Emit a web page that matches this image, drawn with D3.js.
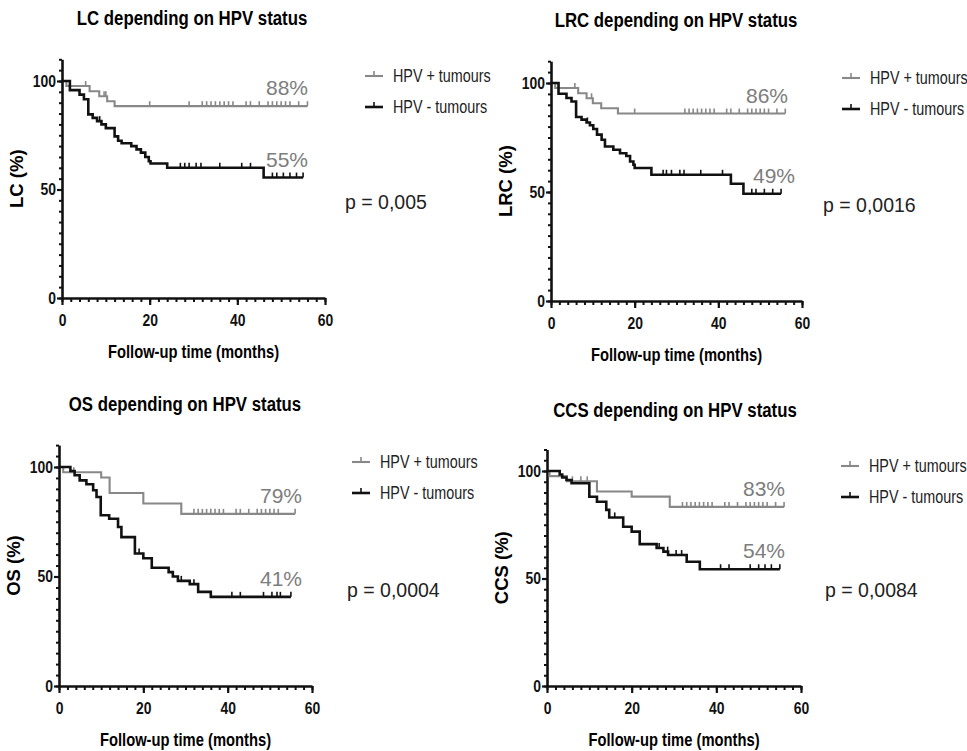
<!DOCTYPE html>
<html>
<head>
<meta charset="utf-8">
<script src="https://cdn.jsdelivr.net/npm/d3@7"></script>
<style>
  body { margin: 0; background: #fff; }
  svg { display: block; }
  svg text { font-family: 'Liberation Sans', Arial, sans-serif; }
  .axis path, .axis line { stroke: #111; }
  .axis text { font-weight: bold; font-size: 17px; fill: #111; }
</style>
</head>
<body>
<div id="container"></div>
<script>
"use strict";

// text of each panel
const titles = ["LC depending on HPV status", "LRC depending on HPV status",
                "OS depending on HPV status", "CCS depending on HPV status"];
const yLabels = ["LC (%)", "LRC (%)", "OS (%)", "CCS (%)"];
const pValues = ["p = 0,005", "p = 0,0016", "p = 0,0004", "p = 0,0084"];
const posFinal = ["88%", "86%", "79%", "83%"];
const negFinal = ["55%", "49%", "41%", "54%"];
const seriesNames = ["HPV + tumours", "HPV - tumours"];
const xMajor = [0, 20, 40, 60];
const yMajor = [0, 50, 100];

// Kaplan-Meier steps [month, % survival]
const lcPos = [[0,100],[1,97.7],[6.3,95.3],[8.5,93.0],[10.3,90.7],[12,88.4],[56,88.4]];
const lcPosCens = [5.4,9.6,10,20,29,32,33,34,35,36,37,38,39,42,43,45,47,48,49,50,51,52,54,56];
const lcNeg = [[0,100],[1.8,95.8],[4,93.7],[5,91.6],[6,84.6],[7,83],[8,81.5],[9,80],[10,78.3],
               [12,74.5],[12.8,72.5],[13.6,71.3],[15.8,70],[17,68.5],[18,67],[19,65],[19.8,63],
               [20.2,62],[24,60],[46,55.5],[55,55.5]];
const lcNegCens = [8.6,27,28,29,30.6,31.7,36,41,43,48,49,50.5,52,53.5,55];

const lrcPos = [[0,100],[1,97.7],[6.5,95.3],[8.5,93.0],[10,90.7],[12,88.4],[16,86.0],[56,86.0]];
const lrcPosCens = [5.7,9.7,20,32,33,34,35,36,37,38,39,42,43,45,47,48,49,50,51,52,54,56];
const lrcNeg = [[0,100],[1.8,95.1],[3.7,93.1],[4.9,91.5],[6,84.4],[7.3,83.2],[8.5,81.9],[9.3,80.6],
                [10.1,78.9],[11,76.3],[12.1,74],[12.9,70.9],[14.9,69.4],[16.5,67.8],[18,66.5],
                [18.9,64],[19.7,62.5],[20,61],[24,57.9],[43,53.8],[46,49.2],[55,49.2]];
const lrcNegCens = [8.7,26.8,27.6,28.8,30.8,31.8,35.8,41,48,49,51,53,55];

const osPos = [[0,100],[1,97.6],[10,95.2],[12,88.1],[20,83.3],[29,78.6],[56,78.6]];
const osPosCens = [3.5,32,33,34,35,36,37,38,39,42,43,45,47,48,49,50,51,52,56];
const osNeg = [[0,100],[2.7,98.2],[3.7,96.2],[4.9,93.9],[6.5,92.1],[8.1,89.4],[8.9,86.3],[9.9,78],
               [11.9,76.4],[14,72.6],[14.8,68],[18,60.5],[20,58.3],[22,54],[26,52],[27,50],
               [28.2,48],[31,46.5],[33,43],[36,40.7],[55,40.7]];
const osNegCens = [19,29,32,41,43,48.5,50.5,51.7,52.5,55];

const ccsPos = [[0,100],[0.6,97.6],[4.7,95.2],[11.8,90.5],[20,88.1],[29,83.3],[56,83.3]];
const ccsPosCens = [6,8,9.5,32,33,34,35,36,37,38,39,42,43,45,47,48,49,50,51,52,54,56];
const ccsNeg = [[0,100],[3,98.4],[3.6,97],[4.6,95.8],[5.8,94.3],[10,88],[11.8,85.7],[14,81.9],
                [14.7,78.4],[18,74.1],[20,71.8],[21.9,66],[25.9,64.2],[27.5,62.5],[28.6,60.9],
                [33,57.8],[36.1,54.3],[55,54.3]];
const ccsNegCens = [16,26.5,28.5,30.5,31.8,41,43,48,50,51.5,53,55];

const posSeries = [lcPos, lrcPos, osPos, ccsPos];
const posCens = [lcPosCens, lrcPosCens, osPosCens, ccsPosCens];
const negSeries = [lcNeg, lrcNeg, osNeg, ccsNeg];
const negCens = [lcNegCens, lrcNegCens, osNegCens, ccsNegCens];

// pixel frame of each panel
const layout = [
  { x0: 62,  x60: 325, y0: 298, y100: 81,  tx: 192, ty: 25,  px: 345, posX: 308, negX: 308 },
  { x0: 551, x60: 802, y0: 301, y100: 83,  tx: 676, ty: 27,  px: 823, posX: 788, negX: 795 },
  { x0: 59,  x60: 312, y0: 686, y100: 467, tx: 185, ty: 411, px: 347, posX: 302, negX: 302 },
  { x0: 547, x60: 801, y0: 686, y100: 471, tx: 675, ty: 417, px: 825, posX: 785, negX: 785 }
];

const grey = "#888", black = "#111";
// the graph-pad text is squeezed sideways
const squeeze = 0.82;

const svg = d3.select("#container").append("svg")
    .attr("width", 967)
    .attr("height", 751);

// value of a step curve at time t
const stepAt = function(steps, t) {
    let v = steps[0][1];
    steps.forEach(d => { if (d[0] <= t) v = d[1]; });
    return v;
};

// narrow text placed at (x, y)
const narrow = function(parent, x, y, str) {
    return parent.append("text")
        .attr("transform", `translate(${x},${y}) scale(${squeeze},1)`)
        .text(str);
};

layout.forEach(function(L, i) {
    const x = d3.scaleLinear().domain([0, 60]).range([L.x0, L.x60]);
    const y = d3.scaleLinear().domain([0, 110])
        .range([L.y0, L.y0 - (L.y0 - L.y100) * 1.1]);
    const g = svg.append("g");

    // title
    narrow(g, L.tx, L.ty, titles[i])
        .attr("text-anchor", "middle")
        .attr("font-weight", "bold")
        .attr("font-size", 20.5);

    // minor ticks first, then majors with labels
    g.append("g").attr("class", "axis")
        .attr("transform", `translate(0,${L.y0})`)
        .call(d3.axisBottom(x).tickValues(d3.range(0, 61, 2)).tickSize(4)
              .tickSizeOuter(0).tickFormat(""))
        .call(a => a.selectAll("line").attr("stroke-width", 2))
        .call(a => a.select(".domain").attr("stroke-width", 2.6));
    g.append("g").attr("class", "axis")
        .attr("transform", `translate(0,${L.y0})`)
        .call(d3.axisBottom(x).tickValues(xMajor).tickSize(7).tickSizeOuter(0).tickPadding(9))
        .call(a => a.selectAll("line").attr("stroke-width", 2.2))
        .call(a => a.selectAll("text").attr("transform", `scale(${squeeze},1)`))
        .call(a => a.select(".domain").remove());

    g.append("g").attr("class", "axis")
        .attr("transform", `translate(${L.x0},0)`)
        .call(d3.axisLeft(y).tickValues(d3.range(0, 111, 5)).tickSize(3)
              .tickSizeOuter(0).tickFormat(""))
        .call(a => a.selectAll("line").attr("stroke-width", 2))
        .call(a => a.select(".domain").attr("stroke-width", 2.6));
    g.append("g").attr("class", "axis")
        .attr("transform", `translate(${L.x0},0)`)
        .call(d3.axisLeft(y).tickValues(yMajor).tickSize(5).tickSizeOuter(0).tickPadding(1))
        .call(a => a.selectAll("line").attr("stroke-width", 2.2))
        .call(a => a.selectAll("text")
              .attr("x", -6 / squeeze)
              .attr("transform", `scale(${squeeze},1)`))
        .call(a => a.select(".domain").remove());

    // axis titles
    narrow(g, (L.x0 + L.x60) / 2, L.y0 + 60, "Follow-up time (months)")
        .attr("text-anchor", "middle")
        .attr("font-weight", "bold").attr("font-size", 18);
    g.append("text")
        .attr("transform", `translate(${L.x0 - 39},${(y(0) + y(110)) / 2}) rotate(-90)`)
        .attr("text-anchor", "middle")
        .attr("font-weight", "bold").attr("font-size", 18.5)
        .text(yLabels[i]);

    // survival curves
    const line = d3.line().curve(d3.curveStepAfter)
        .x(d => x(d[0])).y(d => y(d[1]));
    const series = [
        { steps: posSeries[i], cens: posCens[i], color: grey, w: 2.1 },
        { steps: negSeries[i], cens: negCens[i], color: black, w: 2.6 }
    ];
    series.forEach(function(s) {
        g.append("path")
            .datum(s.steps)
            .attr("fill", "none")
            .attr("stroke", s.color)
            .attr("stroke-width", s.w)
            .attr("d", line);
        g.selectAll(null)
            .data(s.cens)
            .enter().append("line")
                .attr("x1", d => x(d)).attr("x2", d => x(d))
                .attr("y1", d => y(stepAt(s.steps, d)))
                .attr("y2", d => y(stepAt(s.steps, d)) - 5)
                .attr("stroke", s.color)
                .attr("stroke-width", 1.6);
    });

    // end values
    const lastPos = posSeries[i][posSeries[i].length - 1][1];
    const lastNeg = negSeries[i][negSeries[i].length - 1][1];
    [[posFinal[i], L.posX, lastPos], [negFinal[i], L.negX, lastNeg]].forEach(function(t) {
        g.append("text")
            .attr("x", t[1]).attr("y", y(t[2]) - 11)
            .attr("text-anchor", "end")
            .attr("font-size", 21)
            .attr("fill", "#7d7d7d")
            .text(t[0]);
    });

    // legend
    const lx = L.x60 + 40;
    series.forEach(function(s, k) {
        const ly = L.y100 - 5 + k * 31;
        g.append("line")
            .attr("x1", lx).attr("x2", lx + 18)
            .attr("y1", ly).attr("y2", ly)
            .attr("stroke", s.color).attr("stroke-width", s.w);
        g.append("line")
            .attr("x1", lx + 9).attr("x2", lx + 9)
            .attr("y1", ly).attr("y2", ly - 5)
            .attr("stroke", s.color).attr("stroke-width", 1.6);
        narrow(g, lx + 28, ly + 6, seriesNames[k])
            .attr("font-size", 17.5)
            .attr("fill", "#222");
    });

    // log-rank p value
    g.append("text")
        .attr("x", L.px).attr("y", L.y0 - 89)
        .attr("font-family", "'DejaVu Sans', sans-serif")
        .attr("font-size", 19.5)
        .attr("fill", "#222")
        .text(pValues[i]);
});
</script>
</body>
</html>
